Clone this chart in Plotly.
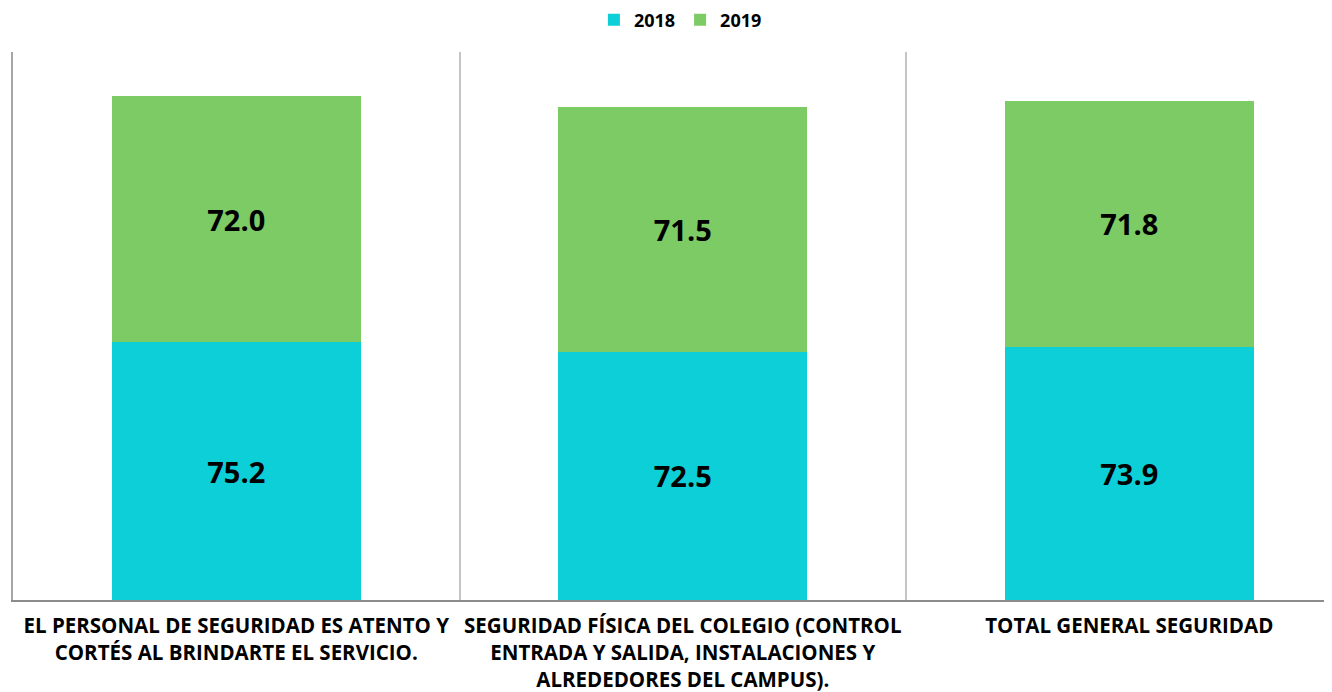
import plotly.graph_objects as go

categories = [
    "EL PERSONAL DE SEGURIDAD ES ATENTO Y<br>CORTÉS AL BRINDARTE EL SERVICIO.",
    "SEGURIDAD FÍSICA DEL COLEGIO (CONTROL<br>ENTRADA Y SALIDA, INSTALACIONES Y<br>ALREDEDORES DEL CAMPUS).",
    "TOTAL GENERAL SEGURIDAD",
]
values_2018 = [75.2, 72.5, 73.9]
values_2019 = [72.0, 71.5, 71.8]

FONT = "Open Sans"
col_2018 = "#0DCFD8"
col_2019 = "#7DCB65"

fig = go.Figure()
for name, vals, col in [("2018", values_2018, col_2018), ("2019", values_2019, col_2019)]:
    fig.add_trace(go.Bar(
        x=categories, y=vals, name=name, marker=dict(color=col, line=dict(width=0)),
        text=[f"{v:.1f}" for v in vals], textposition="inside", insidetextanchor="middle",
        textfont=dict(family=FONT, size=29, color="black", weight="bold"),
        hoverinfo="skip",
    ))

fig.update_layout(
    barmode="stack", bargap=0.442,
    width=1324, height=684,
    margin=dict(l=5, r=0, t=44, b=92),
    paper_bgcolor="white", plot_bgcolor="white",
    font=dict(family=FONT, color="black"),
    legend=dict(orientation="h", x=0.506, xanchor="center",
                yref="container", y=1 - 12 / 684, yanchor="middle",
                font=dict(family=FONT, size=18, weight="bold"), itemwidth=30,
                traceorder="normal"),
    xaxis=dict(type="category", range=[-0.5, 2.454], tickson="boundaries", ticks="",
               showgrid=True, gridcolor="#C4C4C4", gridwidth=1.5,
               showline=True, linecolor="#8C8C8C", linewidth=1.5,
               ticklabelstandoff=7, tickangle=0, automargin=False,
               tickfont=dict(family=FONT, size=20.5, weight="bold", color="black")),
    yaxis=dict(range=[0, 160], showgrid=False, showticklabels=False, zeroline=False,
               showline=True, linecolor="#A6A6A6", linewidth=2, automargin=False),
    uniformtext=dict(minsize=29, mode="show"),
)

fig.write_html("out.html")
